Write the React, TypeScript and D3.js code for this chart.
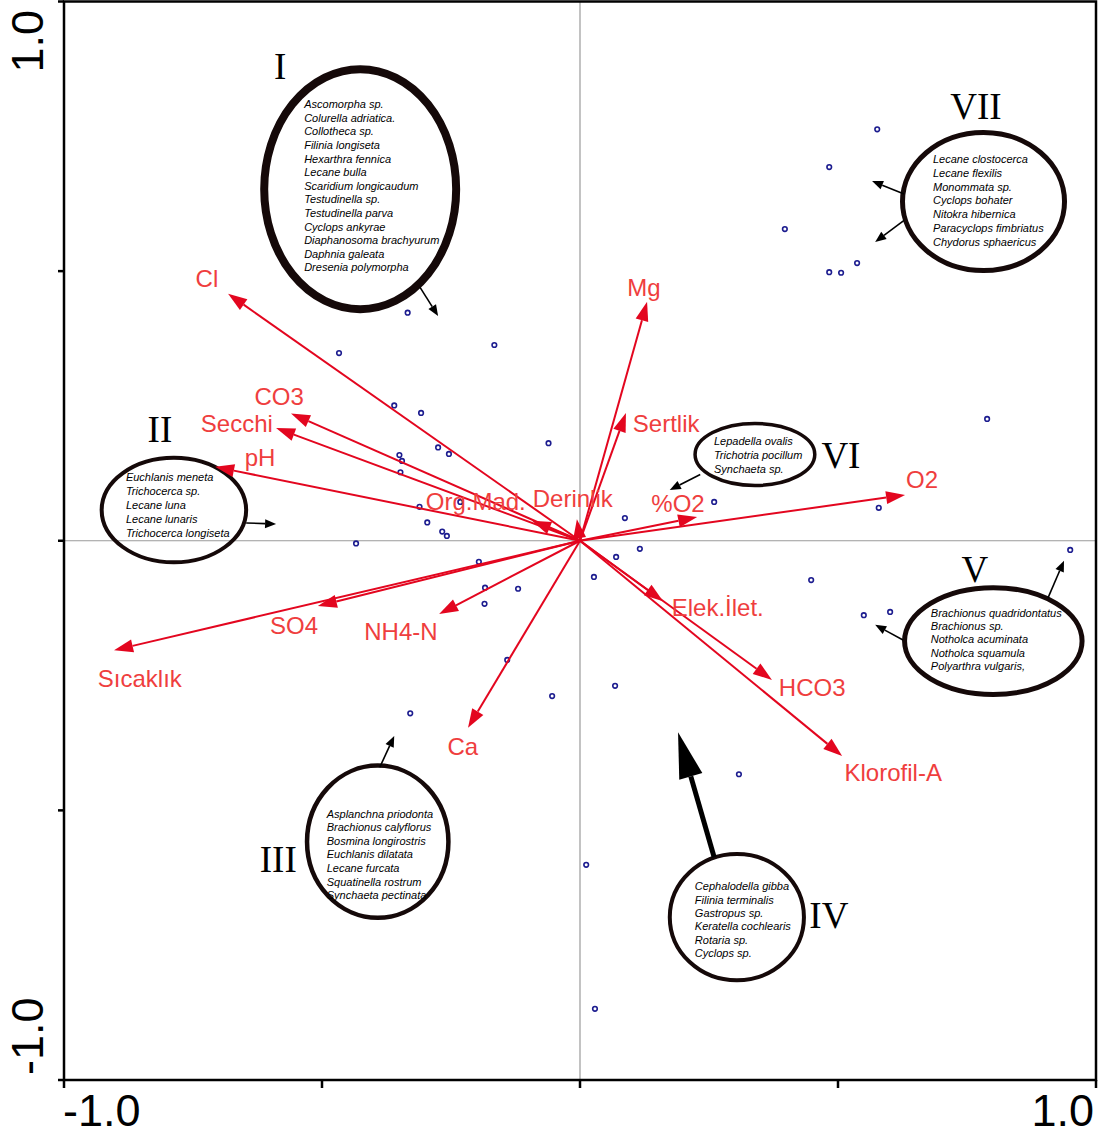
// App.tsx
import React from 'react';
import * as d3 from 'd3';

const W = 1111;
const H = 1137;

// sample scores (blue circles)
const siteX = [0.576, 0.483, 0.397, 0.483, 0.506, 0.537, -0.334, -0.166, -0.467, -0.36, -0.308, -0.061, -0.275, -0.254, -0.35, -0.345, -0.348, 0.789, -0.232, -0.311, -0.296, -0.267, -0.258, -0.434, 0.087, 0.26, 0.579, 0.95, 0.116, 0.07, 0.027, -0.196, -0.184, -0.12, -0.185, 0.448, 0.55, 0.601, -0.141, 0.068, -0.054, -0.329, 0.308, 0.012, 0.029];
const siteY = [0.763, 0.693, 0.578, 0.498, 0.497, 0.515, 0.423, 0.363, 0.348, 0.251, 0.237, 0.181, 0.173, 0.161, 0.159, 0.148, 0.127, 0.226, 0.072, 0.063, 0.034, 0.017, 0.009, -0.005, 0.042, 0.072, 0.061, -0.017, -0.015, -0.03, -0.067, -0.039, -0.087, -0.089, -0.117, -0.073, -0.138, -0.132, -0.221, -0.269, -0.288, -0.32, -0.433, -0.601, -0.868];

// environmental variables (red vectors)
const envNames = ['Cl', 'CO3', 'Secchi', 'pH', 'Org.Mad.', 'Derinlik', 'Mg', 'Sertlik', '%O2', 'O2', 'Elek.İlet.', 'HCO3', 'Klorofil-A', 'Ca', 'NH4-N', 'SO4', 'Sıcaklık'];
const envX = [-0.682, -0.56, -0.589, -0.707, -0.093, -0.006, 0.13, 0.089, 0.227, 0.63, 0.161, 0.372, 0.508, -0.217, -0.273, -0.508, -0.903];
const envY = [0.458, 0.236, 0.209, 0.137, 0.037, 0.04, 0.443, 0.237, 0.044, 0.085, -0.112, -0.258, -0.399, -0.347, -0.136, -0.121, -0.203];
const envLabelX = [-0.723, -0.583, -0.665, -0.62, -0.202, -0.014, 0.124, 0.167, 0.19, 0.663, 0.267, 0.45, 0.607, -0.227, -0.347, -0.554, -0.853];
const envLabelY = [0.487, 0.267, 0.218, 0.155, 0.072, 0.079, 0.469, 0.217, 0.07, 0.114, -0.123, -0.273, -0.429, -0.381, -0.169, -0.158, -0.256];

// species groups
const groupNames = ['I', 'II', 'III', 'IV', 'V', 'VI', 'VII'];
const groupSpecies = [
  ['Ascomorpha sp.', 'Colurella adriatica.', 'Collotheca sp.', 'Filinia longiseta', 'Hexarthra fennica', 'Lecane bulla', 'Scaridium longicaudum', 'Testudinella sp.', 'Testudinella parva', 'Cyclops ankyrae', 'Diaphanosoma brachyurum', 'Daphnia galeata', 'Dresenia polymorpha'],
  ['Euchlanis meneta', 'Trichocerca sp.', 'Lecane luna', 'Lecane lunaris', 'Trichocerca longiseta'],
  ['Asplanchna priodonta', 'Brachionus calyflorus', 'Bosmina longirostris', 'Euchlanis dilatata', 'Lecane furcata', 'Squatinella rostrum', 'Synchaeta pectinata'],
  ['Cephalodella gibba', 'Filinia terminalis', 'Gastropus sp.', 'Keratella cochlearis', 'Rotaria sp.', 'Cyclops sp.'],
  ['Brachionus quadridontatus', 'Brachionus sp.', 'Notholca acuminata', 'Notholca squamula', 'Polyarthra vulgaris,'],
  ['Lepadella ovalis', 'Trichotria pocillum', 'Synchaeta sp.'],
  ['Lecane clostocerca', 'Lecane flexilis', 'Monommata sp.', 'Cyclops bohater', 'Nitokra hibernica', 'Paracyclops fimbriatus', 'Chydorus sphaericus'],
];
const groupCx = [-0.426, -0.787, -0.392, 0.304, 0.801, 0.339, 0.782];
const groupCy = [0.652, 0.057, -0.558, -0.698, -0.186, 0.16, 0.629];
const groupRx = [0.186, 0.14, 0.137, 0.13, 0.172, 0.116, 0.157];
const groupRy = [0.2225, 0.097, 0.141, 0.117, 0.099, 0.0575, 0.128];

// pointer arrows from the groups: [fromX, fromY, toX, toY]
const pointers = [
  [-0.31, 0.47, -0.275, 0.417],
  [-0.647, 0.033, -0.589, 0.031],
  [-0.388, -0.42, -0.36, -0.362],
  [0.907, -0.106, 0.938, -0.037],
  [0.626, -0.184, 0.572, -0.156],
  [0.233, 0.123, 0.174, 0.094],
  [0.628, 0.643, 0.566, 0.667],
  [0.628, 0.594, 0.572, 0.554],
];
const bigPointer = [0.26, -0.587, 0.19, -0.355];

// layout bits (pixels)
const strokeW = [8, 4, 4.5, 4, 5, 3.5, 5];
const textOff = [[-56, -81], [-48, -29], [-51, -24], [-42, -27], [-62.5, -24], [-41, -9.5], [-50.5, -38.5]];
const lineGap = [13.6, 14, 13.6, 13.4, 13.2, 14, 13.8];
const numOff = [[-80, -110], [-14, -68], [-99.5, 30], [92, 11], [-18.5, -59], [86, 13.5], [-7.5, -82.5]];

const sans = 'Liberation Sans, Arial, sans-serif';
const serif = 'Liberation Serif, Times New Roman, serif';
const RED = '#e3061f';
const RED_TXT = '#ef3e3e';
const INK = '#150909';

const x = d3.scaleLinear().domain([-1, 1]).range([64, 1096]);
const y = d3.scaleLinear().domain([-1, 1]).range([1080, 1.5]);

const arrowHead = (x1: number, y1: number, x2: number, y2: number, len: number, hw: number) => {
  const a = Math.atan2(y2 - y1, x2 - x1);
  const bx = x2 - len * Math.cos(a);
  const by = y2 - len * Math.sin(a);
  const px = -Math.sin(a) * hw;
  const py = Math.cos(a) * hw;
  return {
    base: [bx, by],
    points: `${x2},${y2} ${bx + px},${by + py} ${bx - px},${by - py}`,
  };
};

const Arrow = ({ x1, y1, x2, y2, color, width, len, hw }: any) => {
  const h = arrowHead(x1, y1, x2, y2, len, hw);
  return (
    <g>
      <line x1={x1} y1={y1} x2={h.base[0]} y2={h.base[1]} stroke={color} strokeWidth={width} />
      <polygon points={h.points} fill={color} />
    </g>
  );
};

const App = () => {
  const ticks = x.ticks(4);
  const x0 = x(0);
  const y0 = y(0);
  return (
    <div style={{ position: 'absolute', left: 0, top: 0 }}>
      <svg width={W} height={H} style={{ display: 'block', background: '#fff' }}>
        {/* zero lines */}
        <line x1={x(-1)} x2={x(1)} y1={y0} y2={y0} stroke="#9a9a9a" strokeWidth={1.2} />
        <line x1={x0} x2={x0} y1={y(1)} y2={y(-1)} stroke="#9a9a9a" strokeWidth={1.2} />

        {/* frame + ticks */}
        <g stroke="#000" strokeWidth={2.5} fill="none">
          <rect x={x(-1)} y={y(1)} width={x(1) - x(-1)} height={y(-1) - y(1)} />
          {ticks.map((t) => (
            <line key={'bx' + t} x1={x(t)} x2={x(t)} y1={y(-1)} y2={y(-1) + 8} />
          ))}
          {ticks.map((t) => (
            <line key={'ly' + t} x1={x(-1) - 6} x2={x(-1)} y1={y(t)} y2={y(t)} />
          ))}
        </g>
        <g fontFamily={sans} fontSize={45} fill="#000">
          <text x={x(-1) - 1} y={1126}>-1.0</text>
          <text x={x(1) - 2} y={1126} textAnchor="end">1.0</text>
          <text transform={`translate(43,${y(1) + 71}) rotate(-90)`}>1.0</text>
          <text transform={`translate(43,${y(-1) - 5}) rotate(-90)`}>-1.0</text>
        </g>

        {/* groups */}
        {groupNames.map((g, i) => {
          const cx = x(groupCx[i]);
          const cy = y(groupCy[i]);
          return (
            <g key={g}>
              <ellipse cx={cx} cy={cy} rx={x(groupRx[i]) - x0} ry={y0 - y(groupRy[i])} fill="none" stroke={INK} strokeWidth={strokeW[i]} />
              <text x={cx + numOff[i][0]} y={cy + numOff[i][1]} textAnchor="middle" fontFamily={serif} fontSize={37} fill="#000">
                {g}
              </text>
              <g fontFamily={sans} fontSize={11} fontStyle="italic" fill="#000">
                {groupSpecies[i].map((s, j) => (
                  <text key={s} x={cx + textOff[i][0]} y={cy + textOff[i][1] + j * lineGap[i]}>
                    {s}
                  </text>
                ))}
              </g>
            </g>
          );
        })}

        {pointers.map((p, i) => (
          <Arrow key={i} x1={x(p[0])} y1={y(p[1])} x2={x(p[2])} y2={y(p[3])} color="#000" width={1.6} len={11} hw={4.5} />
        ))}
        <Arrow x1={x(bigPointer[0])} y1={y(bigPointer[1])} x2={x(bigPointer[2])} y2={y(bigPointer[3])} color="#000" width={5} len={46} hw={12} />

        {/* sites */}
        <g fill="#fff" stroke="#1c1c8f" strokeWidth={1.6}>
          {siteX.map((v, i) => (
            <circle key={i} cx={x(v)} cy={y(siteY[i])} r={2.3} />
          ))}
        </g>

        {/* environmental vectors */}
        {envNames.map((n, i) => (
          <Arrow key={n} x1={x0} y1={y0} x2={x(envX[i])} y2={y(envY[i])} color={RED} width={2} len={19} hw={6.5} />
        ))}
        <g fontFamily={sans} fontSize={24} fill={RED_TXT} textAnchor="middle">
          {envNames.map((n, i) => (
            <text key={n} x={x(envLabelX[i])} y={y(envLabelY[i])} dominantBaseline="central">
              {n}
            </text>
          ))}
        </g>
      </svg>
    </div>
  );
};

export default App;
